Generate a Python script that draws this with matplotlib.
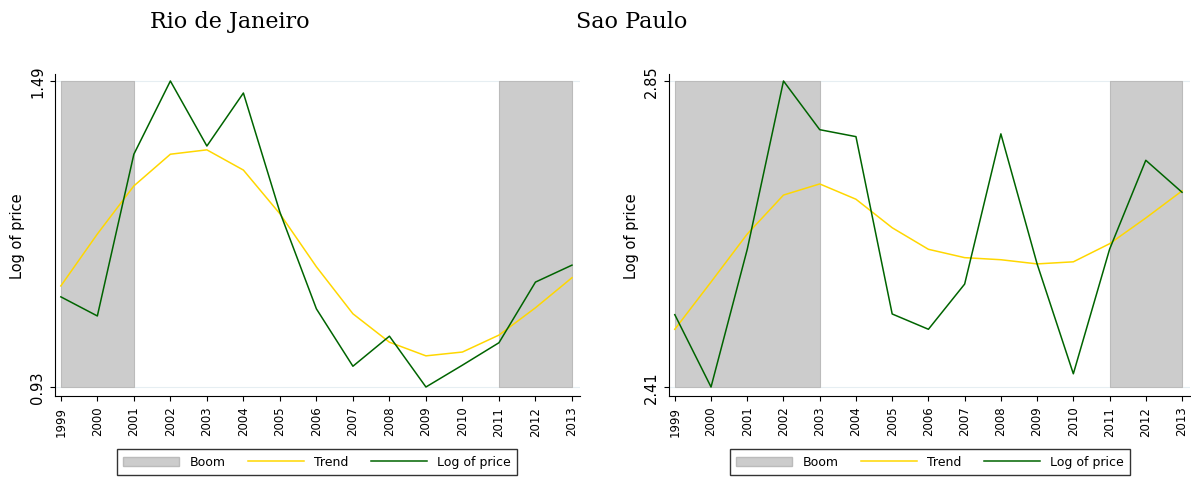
import matplotlib
matplotlib.use("Agg")
import matplotlib.pyplot as plt
from matplotlib.patches import Patch
from matplotlib.lines import Line2D

years = list(range(1999, 2014))

rio_price = [1.095, 1.060, 1.356, 1.490, 1.371, 1.468, 1.250, 1.073, 0.968, 1.023,
             0.930, 0.970, 1.011, 1.122, 1.153]
rio_trend = [1.115, 1.210, 1.298, 1.356, 1.364, 1.327, 1.247, 1.150, 1.064, 1.012,
             0.987, 0.994, 1.025, 1.075, 1.130]
rio_booms = [(1999, 2001), (2011, 2013)]

sp_price = [2.514, 2.410, 2.608, 2.850, 2.780, 2.770, 2.515, 2.493, 2.558, 2.774,
            2.587, 2.429, 2.608, 2.736, 2.690]
sp_trend = [2.493, 2.561, 2.630, 2.686, 2.702, 2.680, 2.639, 2.608, 2.596, 2.593,
            2.587, 2.590, 2.616, 2.653, 2.692]
sp_booms = [(1999, 2003), (2011, 2013)]

panels = [
    ("Rio de Janeiro", rio_price, rio_trend, rio_booms, (0.93, 1.49), ["0.93", "1.49"]),
    ("Sao Paulo", sp_price, sp_trend, sp_booms, (2.41, 2.85), ["2.41", "2.85"]),
]

fig = plt.figure(figsize=(11.91, 4.81), dpi=100)
W, H = 1191, 481
boxes = [(55, 580), (669, 1190)]
title_x = [230, 632]
legend_x = [317, 930]

for (name, price, trend, booms, (lo, hi), labs), (x0, x1), tx, lx in zip(
        panels, boxes, title_x, legend_x):
    ax = fig.add_axes([x0 / W, 1 - 397 / H, (x1 - x0) / W, (397 - 75) / H])
    span = (hi - lo) / 306
    ax.set_ylim(lo - 9 * span, hi + 7 * span)
    ax.set_xlim(1999 - 0.16, 2013 + 0.22)
    for a, b in booms:
        ax.fill_between([a, b], lo, hi, color="#cccccc", edgecolor="#bbbbbb", lw=0.8, zorder=1)
    ax.plot(years, trend, color="#ffd700", lw=1.1, zorder=3)
    ax.plot(years, price, color="#006400", lw=1.1, zorder=4)
    ax.set_yticks([lo, hi])
    ax.set_yticklabels(labs, rotation=90, va="center", fontsize=10.5)
    ax.set_xticks(years)
    ax.set_xticklabels([str(y) for y in years], rotation=90, fontsize=8.5)
    ax.set_ylabel("Log of price", fontsize=10.5)
    for y in (lo, hi):
        ax.axhline(y, color="#e6eef2", lw=0.8, zorder=0)
    ax.spines["top"].set_visible(False)
    ax.spines["right"].set_visible(False)
    fig.text(tx / W, 1 - 22 / H, name, ha="center", va="center",
             family="DejaVu Serif", fontsize=16)
    handles = [Patch(facecolor="#cccccc", edgecolor="#bbbbbb"),
               Line2D([0], [0], color="#ffd700", lw=1.1),
               Line2D([0], [0], color="#006400", lw=1.1)]
    fig.legend(handles, ["Boom", "Trend", "Log of price"], loc="center",
               bbox_to_anchor=(lx / W, 1 - 463 / H), ncol=3, fontsize=9,
               frameon=True, fancybox=False, edgecolor="black", handlelength=4.5,
               columnspacing=1.8, handletextpad=0.8, borderpad=0.5)

fig.savefig("out.png", dpi=100)
